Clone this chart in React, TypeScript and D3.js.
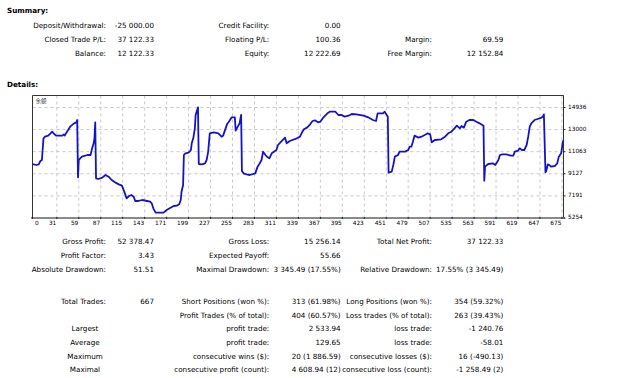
import React from 'react';
import * as d3 from 'd3';

// ---- balance curve (trade #, balance) ----
const tradeIndex = [0, 5, 8, 10, 12, 14, 16, 20, 23, 25, 27, 30, 38, 40, 41, 44, 48, 53, 56, 57, 58, 59, 63, 70, 74, 76, 78, 79, 80, 81, 84, 89, 93, 97, 101, 106, 110, 114, 117, 120, 123, 126, 129, 131, 135, 140, 146, 150, 152, 154, 157, 167, 171, 176, 180, 184, 187, 189, 190, 192, 193, 195, 199, 202, 203, 205, 207, 208, 211, 212, 216, 220, 222, 224, 226, 231, 237, 241, 243, 248, 251, 254, 258, 259, 261, 264, 266, 267, 269, 273, 277, 284, 287, 289, 292, 294, 297, 299, 302, 305, 311, 313, 317, 322, 324, 328, 337, 341, 343, 346, 350, 354, 357, 360, 364, 367, 371, 377, 379, 386, 390, 394, 398, 403, 407, 413, 422, 428, 434, 438, 440, 447, 449, 451, 453, 454, 458, 460, 462, 466, 468, 475, 479, 481, 483, 485, 487, 492, 496, 500, 504, 507, 509, 513, 521, 526, 530, 534, 538, 541, 545, 547, 550, 553, 557, 562, 566, 570, 575, 576, 577, 581, 587, 590, 594, 596, 599, 604, 610, 613, 615, 619, 621, 624, 627, 630, 632, 634, 636, 640, 644, 649, 651, 652, 654, 655, 657, 659, 661, 666, 669, 671, 674, 675, 676, 677];
const balance = [9985, 9898, 9957, 10248, 10336, 12235, 12380, 12468, 12673, 12818, 12673, 12468, 12468, 12585, 12468, 12818, 13256, 13549, 13636, 13840, 8817, 10336, 10628, 10774, 10774, 11358, 11797, 12235, 13636, 8730, 8671, 8788, 9022, 8875, 8584, 8350, 8204, 8087, 7561, 6977, 7182, 7269, 7123, 6744, 6744, 6831, 6744, 6685, 6539, 6101, 5721, 5721, 5955, 6159, 6305, 6334, 6452, 6831, 7561, 8146, 10774, 10920, 10978, 11212, 11797, 12235, 13111, 14279, 14951, 9985, 9957, 10044, 10336, 11066, 12673, 12760, 12673, 12380, 12468, 13461, 13753, 14074, 14074, 12906, 13169, 13549, 14279, 9372, 9168, 9080, 9022, 9168, 9752, 9957, 10336, 11066, 10774, 10628, 10482, 10920, 11212, 11650, 11942, 12293, 11797, 12001, 12235, 12380, 12673, 13024, 13169, 13461, 13753, 13812, 13636, 13694, 14074, 14483, 14571, 14571, 14279, 14279, 14133, 14220, 14366, 14337, 14220, 14074, 13840, 13753, 14425, 14425, 14571, 14337, 14133, 9226, 9314, 9898, 10628, 10774, 11066, 11066, 11212, 11504, 11504, 11942, 12468, 12293, 12380, 12526, 12673, 12585, 11884, 12089, 12147, 12380, 12673, 12818, 13111, 13344, 13111, 13315, 13169, 13694, 13840, 13840, 13694, 13549, 13344, 8525, 9752, 9985, 10044, 9898, 10336, 10774, 10832, 10832, 10715, 10715, 11066, 11153, 11358, 11212, 11212, 11650, 12380, 13256, 13549, 13840, 13928, 14045, 14191, 14337, 9255, 9372, 9957, 9898, 9752, 9811, 10044, 10628, 10920, 11358, 11884, 12050];

const xTicks = [0, 31, 59, 87, 115, 143, 171, 199, 227, 255, 283, 311, 339, 367, 395, 423, 451, 479, 507, 535, 563, 591, 619, 647, 675];
const yTicks = [5254, 7191, 9127, 11063, 13000, 14936];
const chartTitle = '余额';

// ---- summary ----
const summaryRow1 = [['Deposit/Withdrawal:', '-25 000.00'], ['Credit Facility:', '0.00'], ['', '']];
const summaryRow2 = [['Closed Trade P/L:', '37 122.33'], ['Floating P/L:', '100.36'], ['Margin:', '69.59']];
const summaryRow3 = [['Balance:', '12 122.33'], ['Equity:', '12 222.69'], ['Free Margin:', '12 152.84']];

// ---- details ----
const detailRow1 = [['Gross Profit:', '52 378.47'], ['Gross Loss:', '15 256.14'], ['Total Net Profit:', '37 122.33']];
const detailRow2 = [['Profit Factor:', '3.43'], ['Expected Payoff:', '55.66'], ['', '']];
const detailRow3 = [['Absolute Drawdown:', '51.51'], ['Maximal Drawdown:', '3 345.49 (17.55%)'], ['Relative Drawdown:', '17.55% (3 345.49)']];

const tradeRow1 = [['Total Trades:', '667'], ['Short Positions (won %):', '313 (61.98%)'], ['Long Positions (won %):', '354 (59.32%)']];
const tradeRow2 = [['', ''], ['Profit Trades (% of total):', '404 (60.57%)'], ['Loss trades (% of total):', '263 (39.43%)']];
const statGroups = ['Largest', 'Average', 'Maximum', 'Maximal'];
const statRows = [
  [['profit trade:', '2 533.94'], ['loss trade:', '-1 240.76']],
  [['profit trade:', '129.65'], ['loss trade:', '-58.01']],
  [['consecutive wins ($):', '20 (1 886.59)'], ['consecutive losses ($):', '16 (-490.13)']],
  [['consecutive profit (count):', '4 608.94 (12)'], ['consecutive loss (count):', '-1 258.49 (2)']],
];

const FONT = '"DejaVu Sans", Verdana, sans-serif';
const FS = 7.2;
const labelRight = [106, 269.3, 432];
const valueRight = [154, 340.7, 503.3];

function Row({ y, cells }: { y: number; cells: string[][] }) {
  return (
    <g>
      {cells.map((c, i) => (
        <g key={i}>
          {c[0] && (
            <text x={labelRight[i]} y={y} textAnchor="end" dominantBaseline="central">{c[0]}</text>
          )}
          {c[1] && (
            <text x={valueRight[i]} y={y} textAnchor="end" dominantBaseline="central">{c[1]}</text>
          )}
        </g>
      ))}
    </g>
  );
}

export default function App() {
  const W = 640, H = 378;
  const left = 32.5, right = 563.5, top = 95.5, bottom = 218;
  const x = d3.scaleLinear().domain([0, 677]).range([left, right]);
  const y = d3.scaleLinear().domain([5254, 14936]).range([bottom, 107.5]);
  const pts: [number, number][] = tradeIndex.map((t, i) => [x(t), y(balance[i])]);
  const path = d3.line()(pts) || '';

  return (
    <svg width={W} height={H} style={{ position: 'absolute', left: 0, top: 0, background: '#fff' }}
      fontFamily={FONT} fontSize={FS} fill="#000">
      <rect x={0} y={0} width={W} height={H} fill="#fff" />
      <text x={7} y={10} fontWeight="bold" dominantBaseline="central">Summary:</text>
      <Row y={25} cells={summaryRow1} />
      <Row y={39} cells={summaryRow2} />
      <Row y={53} cells={summaryRow3} />
      <text x={7} y={84} fontWeight="bold" dominantBaseline="central">Details:</text>

      {/* chart */}
      <g>
        {xTicks.filter(t => t > 0).map(t => (
          <line key={'vx' + t} x1={x(t)} x2={x(t)} y1={top} y2={bottom} stroke="#c8c8c8" strokeDasharray="3,3" strokeWidth={1} />
        ))}
        {yTicks.filter(t => t > 5254).map(t => (
          <line key={'hy' + t} x1={left} x2={right} y1={y(t)} y2={y(t)} stroke="#c8c8c8" strokeDasharray="3,3" strokeWidth={1} />
        ))}
        <line x1={left} x2={left} y1={top} y2={bottom} stroke="#333" strokeWidth={1} />
        <line x1={left} x2={right} y1={top} y2={top} stroke="#333" strokeWidth={1} />
        <line x1={right} x2={right} y1={top} y2={bottom} stroke="#333" strokeWidth={1} />
        <line x1={31} x2={565} y1={bottom} y2={bottom} stroke="#8a8a8a" strokeWidth={2} />
        {xTicks.map(t => (
          <line key={'tx' + t} x1={x(t)} x2={x(t)} y1={bottom - 1} y2={bottom + 1} stroke="#222" strokeWidth={1} />
        ))}
        {yTicks.map(t => (
          <line key={'ty' + t} x1={right} x2={right + 2} y1={y(t)} y2={y(t)} stroke="#222" strokeWidth={1} />
        ))}
        <path d={path} fill="none" stroke="#1414c4" strokeWidth={1.8} strokeLinejoin="round" />
        <text x={35.5} y={100.5} fontSize={5.5} fontFamily='"Noto Sans CJK SC", sans-serif' dominantBaseline="central" fill="#333">{chartTitle}</text>
        {xTicks.map(t => (
          t === 0 ? (
            <text key={'lx' + t} x={left + 2.5} y={223} fontSize={5.8} dominantBaseline="central">{t}</text>
          ) : (
            <text key={'lx' + t} x={x(t) - 0.5} y={223} fontSize={5.8} textAnchor="end" dominantBaseline="central">{t}</text>
          )
        ))}
        {yTicks.map(t => (
          <text key={'ly' + t} x={568} y={y(t) - 0.8} fontSize={5.8} dominantBaseline="central">{t}</text>
        ))}
      </g>

      <Row y={241} cells={detailRow1} />
      <Row y={255} cells={detailRow2} />
      <Row y={269.3} cells={detailRow3} />

      <Row y={301} cells={tradeRow1} />
      <Row y={315} cells={tradeRow2} />
      {statGroups.map((g, i) => {
        const yy = 328.7 + i * 13.75;
        return (
          <g key={g}>
            <text x={85} y={yy} textAnchor="middle" dominantBaseline="central">{g}</text>
            <Row y={yy} cells={[['', ''], statRows[i][0], statRows[i][1]]} />
          </g>
        );
      })}
    </svg>
  );
}
